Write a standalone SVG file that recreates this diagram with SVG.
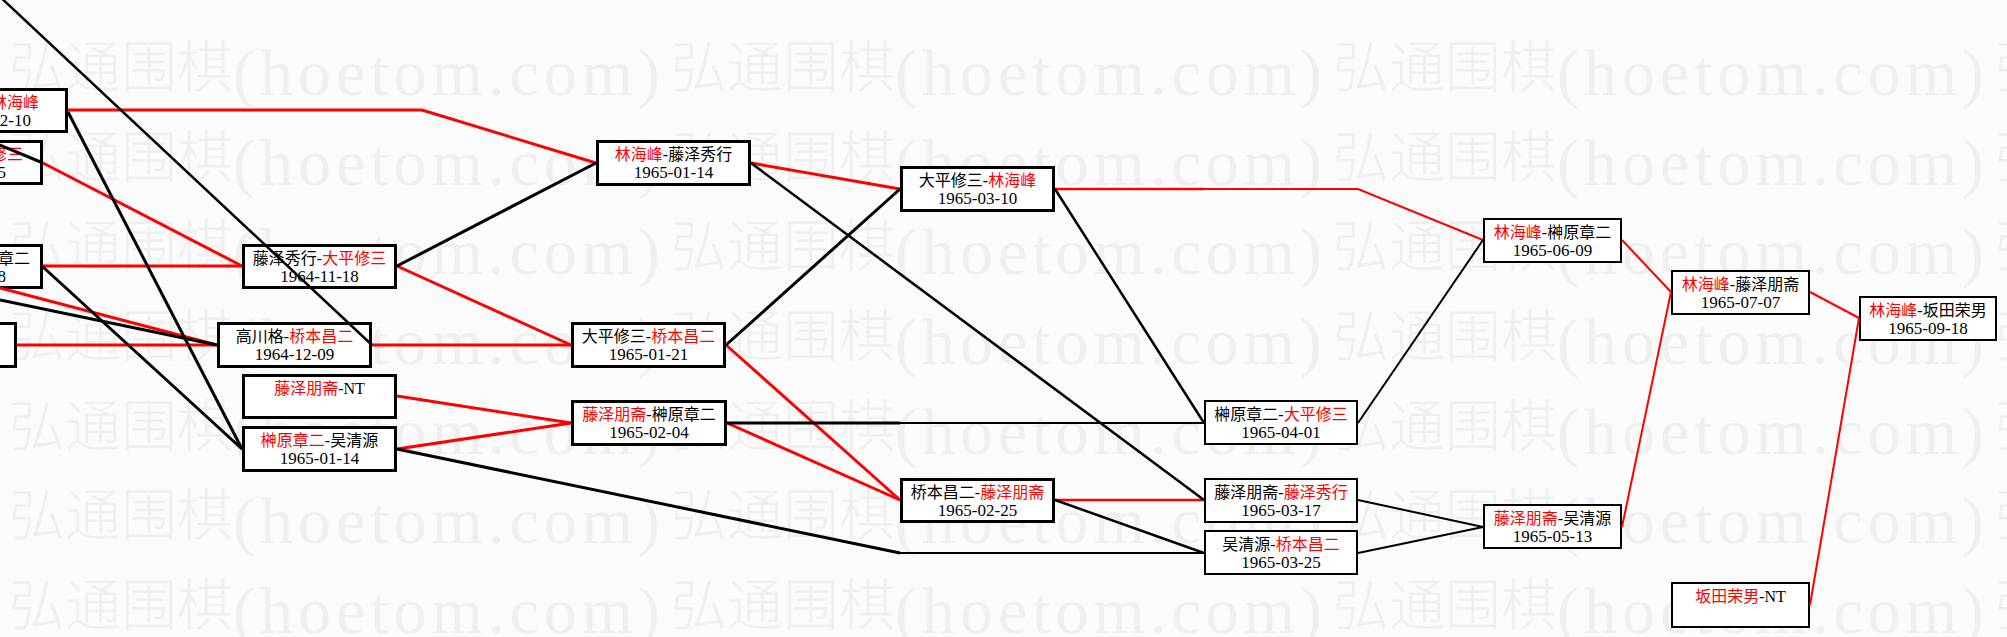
<svg xmlns="http://www.w3.org/2000/svg" width="2007" height="637" viewBox="0 0 2007 637">
<style>
.bg{fill:#fbfbfb}
.wm{font-family:"Liberation Serif","Noto Sans CJK SC",serif;fill:#efefef}
.wc{font-family:"Noto Sans CJK SC",sans-serif;font-size:56px;font-weight:300}
.wl{font-family:"Liberation Serif",serif;font-size:66px;letter-spacing:5px}
.b3{fill:#fff;stroke:#000;stroke-width:3}
.b2{fill:#fff;stroke:#000;stroke-width:2}
.t{font-family:"Liberation Serif","Noto Sans CJK SC",serif;font-size:16px;fill:#000;text-anchor:middle}
.d{font-size:17px}
.te{text-anchor:end}
.r{fill:#f00}
.k{stroke:#000;fill:none}
.e{stroke:#f00;fill:none}
.s3{stroke-width:3}
.s25{stroke-width:2.5}
.s2{stroke-width:2}
</style>
<rect class="bg" x="0" y="0" width="2007" height="637"/>
<g id="watermark" class="wm">
<text y="87"><tspan class="wc" x="9">弘通围棋</tspan><tspan class="wl" dy="8">(hoetom.com)</tspan><tspan class="wc" x="671" dy="-8">弘通围棋</tspan><tspan class="wl" dy="8">(hoetom.com)</tspan><tspan class="wc" x="1333" dy="-8">弘通围棋</tspan><tspan class="wl" dy="8">(hoetom.com)</tspan><tspan class="wc" x="1995" dy="-8">弘</tspan></text>
<text y="177"><tspan class="wc" x="9">弘通围棋</tspan><tspan class="wl" dy="8">(hoetom.com)</tspan><tspan class="wc" x="671" dy="-8">弘通围棋</tspan><tspan class="wl" dy="8">(hoetom.com)</tspan><tspan class="wc" x="1333" dy="-8">弘通围棋</tspan><tspan class="wl" dy="8">(hoetom.com)</tspan><tspan class="wc" x="1995" dy="-8">弘</tspan></text>
<text y="266"><tspan class="wc" x="9">弘通围棋</tspan><tspan class="wl" dy="8">(hoetom.com)</tspan><tspan class="wc" x="671" dy="-8">弘通围棋</tspan><tspan class="wl" dy="8">(hoetom.com)</tspan><tspan class="wc" x="1333" dy="-8">弘通围棋</tspan><tspan class="wl" dy="8">(hoetom.com)</tspan><tspan class="wc" x="1995" dy="-8">弘</tspan></text>
<text y="356"><tspan class="wc" x="9">弘通围棋</tspan><tspan class="wl" dy="8">(hoetom.com)</tspan><tspan class="wc" x="671" dy="-8">弘通围棋</tspan><tspan class="wl" dy="8">(hoetom.com)</tspan><tspan class="wc" x="1333" dy="-8">弘通围棋</tspan><tspan class="wl" dy="8">(hoetom.com)</tspan><tspan class="wc" x="1995" dy="-8">弘</tspan></text>
<text y="446"><tspan class="wc" x="9">弘通围棋</tspan><tspan class="wl" dy="8">(hoetom.com)</tspan><tspan class="wc" x="671" dy="-8">弘通围棋</tspan><tspan class="wl" dy="8">(hoetom.com)</tspan><tspan class="wc" x="1333" dy="-8">弘通围棋</tspan><tspan class="wl" dy="8">(hoetom.com)</tspan><tspan class="wc" x="1995" dy="-8">弘</tspan></text>
<text y="535"><tspan class="wc" x="9">弘通围棋</tspan><tspan class="wl" dy="8">(hoetom.com)</tspan><tspan class="wc" x="671" dy="-8">弘通围棋</tspan><tspan class="wl" dy="8">(hoetom.com)</tspan><tspan class="wc" x="1333" dy="-8">弘通围棋</tspan><tspan class="wl" dy="8">(hoetom.com)</tspan><tspan class="wc" x="1995" dy="-8">弘</tspan></text>
<text y="625"><tspan class="wc" x="9">弘通围棋</tspan><tspan class="wl" dy="8">(hoetom.com)</tspan><tspan class="wc" x="671" dy="-8">弘通围棋</tspan><tspan class="wl" dy="8">(hoetom.com)</tspan><tspan class="wc" x="1333" dy="-8">弘通围棋</tspan><tspan class="wl" dy="8">(hoetom.com)</tspan><tspan class="wc" x="1995" dy="-8">弘</tspan></text>
</g>
<g id="nA"><rect class="b3" x="-88.5" y="89.5" width="155" height="42"/><text class="t te" x="39" y="108"><tspan class="r">林海峰</tspan></text><text class="t d te" x="31" y="126">2-10</text></g>
<g id="nB"><rect class="b3" x="-88.5" y="141.5" width="130" height="42"/><text class="t te" x="23" y="160"><tspan class="r">修三</tspan></text><text class="t d te" x="6" y="178">5</text></g>
<g id="nC"><rect class="b3" x="-88.5" y="245.5" width="130" height="42"/><text class="t te" x="30" y="264">章二</text><text class="t d te" x="6" y="282">8</text></g>
<g id="nD"><rect class="b3" x="-88.5" y="323.5" width="104" height="43"/></g>
<g id="n1"><rect class="b3" x="243.5" y="245.5" width="152" height="42"/><text class="t" x="319.5" y="264">藤泽秀行-<tspan class="r">大平修三</tspan></text><text class="t d" x="319.5" y="282">1964-11-18</text></g>
<g id="n2"><rect class="b3" x="218.5" y="323.5" width="152" height="43"/><text class="t" x="294.5" y="342">高川格-<tspan class="r">桥本昌二</tspan></text><text class="t d" x="294.5" y="360">1964-12-09</text></g>
<g id="n3"><rect class="b3" x="243.5" y="375.5" width="152" height="42"/><text class="t" x="319.5" y="394"><tspan class="r">藤泽朋斋</tspan>-NT</text></g>
<g id="n4"><rect class="b3" x="243.5" y="427.5" width="152" height="43"/><text class="t" x="319.5" y="446"><tspan class="r">榊原章二</tspan>-吴清源</text><text class="t d" x="319.5" y="464">1965-01-14</text></g>
<g id="n5"><rect class="b3" x="597.5" y="141.5" width="152" height="43"/><text class="t" x="673.5" y="160"><tspan class="r">林海峰</tspan>-藤泽秀行</text><text class="t d" x="673.5" y="178">1965-01-14</text></g>
<g id="n6"><rect class="b3" x="572.5" y="323.5" width="152" height="43"/><text class="t" x="648.5" y="342">大平修三-<tspan class="r">桥本昌二</tspan></text><text class="t d" x="648.5" y="360">1965-01-21</text></g>
<g id="n7"><rect class="b3" x="572.5" y="401.5" width="153" height="43"/><text class="t" x="649" y="420"><tspan class="r">藤泽朋斋</tspan>-榊原章二</text><text class="t d" x="649" y="438">1965-02-04</text></g>
<g id="n8"><rect class="b3" x="901.5" y="167.5" width="152" height="43"/><text class="t" x="977.5" y="186">大平修三-<tspan class="r">林海峰</tspan></text><text class="t d" x="977.5" y="204">1965-03-10</text></g>
<g id="n9"><rect class="b3" x="901.5" y="479.5" width="152" height="42"/><text class="t" x="977.5" y="498">桥本昌二-<tspan class="r">藤泽朋斋</tspan></text><text class="t d" x="977.5" y="516">1965-02-25</text></g>
<g id="n10"><rect class="b2" x="1205" y="401" width="152" height="43"/><text class="t" x="1281" y="420">榊原章二-<tspan class="r">大平修三</tspan></text><text class="t d" x="1281" y="438">1965-04-01</text></g>
<g id="n11"><rect class="b2" x="1205" y="479" width="152" height="43"/><text class="t" x="1281" y="498">藤泽朋斋-<tspan class="r">藤泽秀行</tspan></text><text class="t d" x="1281" y="516">1965-03-17</text></g>
<g id="n12"><rect class="b2" x="1205" y="531" width="152" height="43"/><text class="t" x="1281" y="550">吴清源-<tspan class="r">桥本昌二</tspan></text><text class="t d" x="1281" y="568">1965-03-25</text></g>
<g id="n13"><rect class="b2" x="1484" y="219" width="137" height="43"/><text class="t" x="1552.5" y="238"><tspan class="r">林海峰</tspan>-榊原章二</text><text class="t d" x="1552.5" y="256">1965-06-09</text></g>
<g id="n14"><rect class="b2" x="1484" y="505" width="137" height="43"/><text class="t" x="1552.5" y="524"><tspan class="r">藤泽朋斋</tspan>-吴清源</text><text class="t d" x="1552.5" y="542">1965-05-13</text></g>
<g id="n15"><rect class="b2" x="1672" y="271" width="137" height="43"/><text class="t" x="1740.5" y="290"><tspan class="r">林海峰</tspan>-藤泽朋斋</text><text class="t d" x="1740.5" y="308">1965-07-07</text></g>
<g id="n16"><rect class="b2" x="1672" y="583" width="137" height="44"/><text class="t" x="1740.5" y="602"><tspan class="r">坂田荣男</tspan>-NT</text></g>
<g id="n17"><rect class="b2" x="1860" y="297" width="136" height="43"/><text class="t" x="1928" y="316"><tspan class="r">林海峰</tspan>-坂田荣男</text><text class="t d" x="1928" y="334">1965-09-18</text></g>
<g id="connectors">
<polyline class="e s3" points="68,110 422,110 596,163"/>
<line class="e s3" x1="43" y1="163" x2="242" y2="266"/>
<line class="e s3" x1="43" y1="266" x2="242" y2="266"/>
<line class="e s3" x1="0" y1="288" x2="217" y2="345"/>
<line class="e s3" x1="17" y1="345" x2="217" y2="345"/>
<line class="e s3" x1="372" y1="345" x2="571" y2="345"/>
<line class="e s3" x1="397" y1="266" x2="571" y2="345"/>
<line class="e s3" x1="397" y1="396" x2="571" y2="423"/>
<line class="e s3" x1="397" y1="449" x2="571" y2="423"/>
<line class="e s3" x1="751" y1="163" x2="900" y2="189"/>
<line class="e s3" x1="726" y1="345" x2="900" y2="500"/>
<line class="e s3" x1="727" y1="423" x2="900" y2="500"/>
<line class="e s25" x1="1055" y1="189" x2="1204" y2="189"/>
<polyline class="e s2" points="1204,189 1358,189 1483,240"/>
<line class="e s25" x1="1055" y1="500" x2="1204" y2="500"/>
<line class="e s2" x1="1622" y1="240" x2="1671" y2="292"/>
<line class="e s2" x1="1622" y1="527" x2="1671" y2="292"/>
<line class="e s2" x1="1810" y1="292" x2="1859" y2="318"/>
<line class="e s2" x1="1810" y1="605" x2="1859" y2="318"/>
<line class="k s25" x1="-3" y1="-6" x2="372" y2="345"/>
<line class="k s3" x1="68" y1="112" x2="242" y2="449"/>
<line class="k s3" x1="-10" y1="141" x2="43" y2="163"/>
<line class="k s3" x1="43" y1="267" x2="242" y2="449"/>
<line class="k s3" x1="0" y1="300" x2="217" y2="345"/>
<line class="k s3" x1="397" y1="266" x2="596" y2="163"/>
<line class="k s3" x1="397" y1="449" x2="900" y2="553"/>
<line class="k s2" x1="900" y1="553" x2="1204" y2="553"/>
<line class="k s3" x1="727" y1="423" x2="900" y2="423"/>
<line class="k s2" x1="900" y1="423" x2="1204" y2="423"/>
<line class="k s3" x1="726" y1="345" x2="900" y2="189"/>
<line class="k s25" x1="751" y1="163" x2="1204" y2="500"/>
<line class="k s25" x1="1055" y1="189" x2="1204" y2="423"/>
<line class="k s25" x1="1055" y1="500" x2="1204" y2="553"/>
<line class="k s2" x1="1358" y1="423" x2="1483" y2="240"/>
<line class="k s2" x1="1358" y1="500" x2="1483" y2="527"/>
<line class="k s2" x1="1358" y1="553" x2="1483" y2="527"/>
</g>
</svg>
